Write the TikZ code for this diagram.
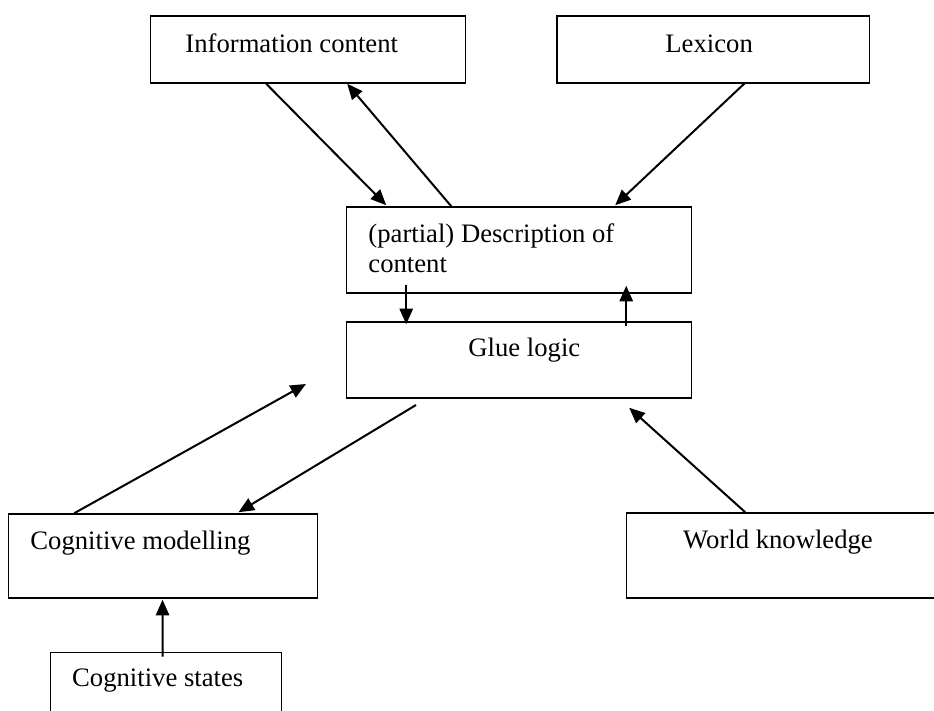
\documentclass[tikz,border=0pt]{standalone}
\usepackage{fontspec}
\setmainfont{Liberation Serif}
\usepackage{tikz}
\usetikzlibrary{arrows.meta, calc, fit}

\begin{document}
\begin{tikzpicture}[
  x=0.45pt, y=-0.45pt,
  box/.style={rectangle, draw, line width=0.7pt, inner sep=0pt},
  txt/.style={inner sep=0pt, anchor=base west,
              font=\fontsize{12}{13.6}\selectfont},
  arr/.style={-{Triangle[length=7pt,width=6pt]}, line width=0.9pt}
]
\clip (0,0) rectangle (934,711);

% Cajas
\node[box, fit={(150.7,16) (465.7,83)}]  (info)   {};
\node[box, fit={(557,16) (869.3,83)}]    (lex)    {};
\node[box, fit={(346.7,207) (691.7,293)}] (desc)  {};
\node[box, fit={(346.7,322) (691.7,398)}] (glue)  {};
\node[box, fit={(8.3,514) (317.3,598)}]  (cogmod) {};
\node[box, fit={(626.7,513) (950,598)}]  (world)  {};
\node[box, fit={(50.7,652.3) (281.7,730)}] (states) {};

% Textos
\node[txt] (infotxt)   at (185,53)    {Information content};
\node[txt] (lextxt)    at (665,53)    {Lexicon};
\node[txt, align=left] (desctxt) at (368,273)
  {(partial) Description of\\content};
\node[txt] (gluetxt)   at (468,356.5) {Glue logic};
\node[txt] (cogmodtxt) at (30,550)    {Cognitive modelling};
\node[txt] (worldtxt)  at (682.7,549) {World knowledge};
\node[txt] (statestxt) at (71.7,687)  {Cognitive states};

% Extremos libres
\coordinate (cmtip)   at (306,384);
\coordinate (cmstart) at (416,405);

% Flechas
\draw[arr] ($(info.south west)+(116.3,0)$) -- ($(desc.north west)+(40.3,-1)$);
\draw[arr] ($(desc.north west)+(105.3,0)$) -- ($(info.south west)+(197.3,0)$);
\draw[arr] ($(lex.south west)+(189,-1)$)   -- ($(desc.north west)+(269.3,-1)$);
\draw[arr] ($(desc.south west)+(60.3,-9)$) -- ($(glue.north west)+(60.3,3)$);
\draw[arr] ($(glue.north west)+(280.3,5)$) -- ($(desc.south west)+(280.3,-8)$);
\draw[arr] ($(cogmod.north west)+(66.7,0)$) -- (cmtip);
\draw[arr] (cmstart) -- ($(cogmod.north west)+(231,-1)$);
\draw[arr] ($(world.north west)+(119.3,0)$) -- ($(glue.south west)+(283.3,9)$);
\draw[arr] ($(states.north west)+(112.6,5)$) -- ($(cogmod.south west)+(155,1)$);
\end{tikzpicture}
\end{document}
